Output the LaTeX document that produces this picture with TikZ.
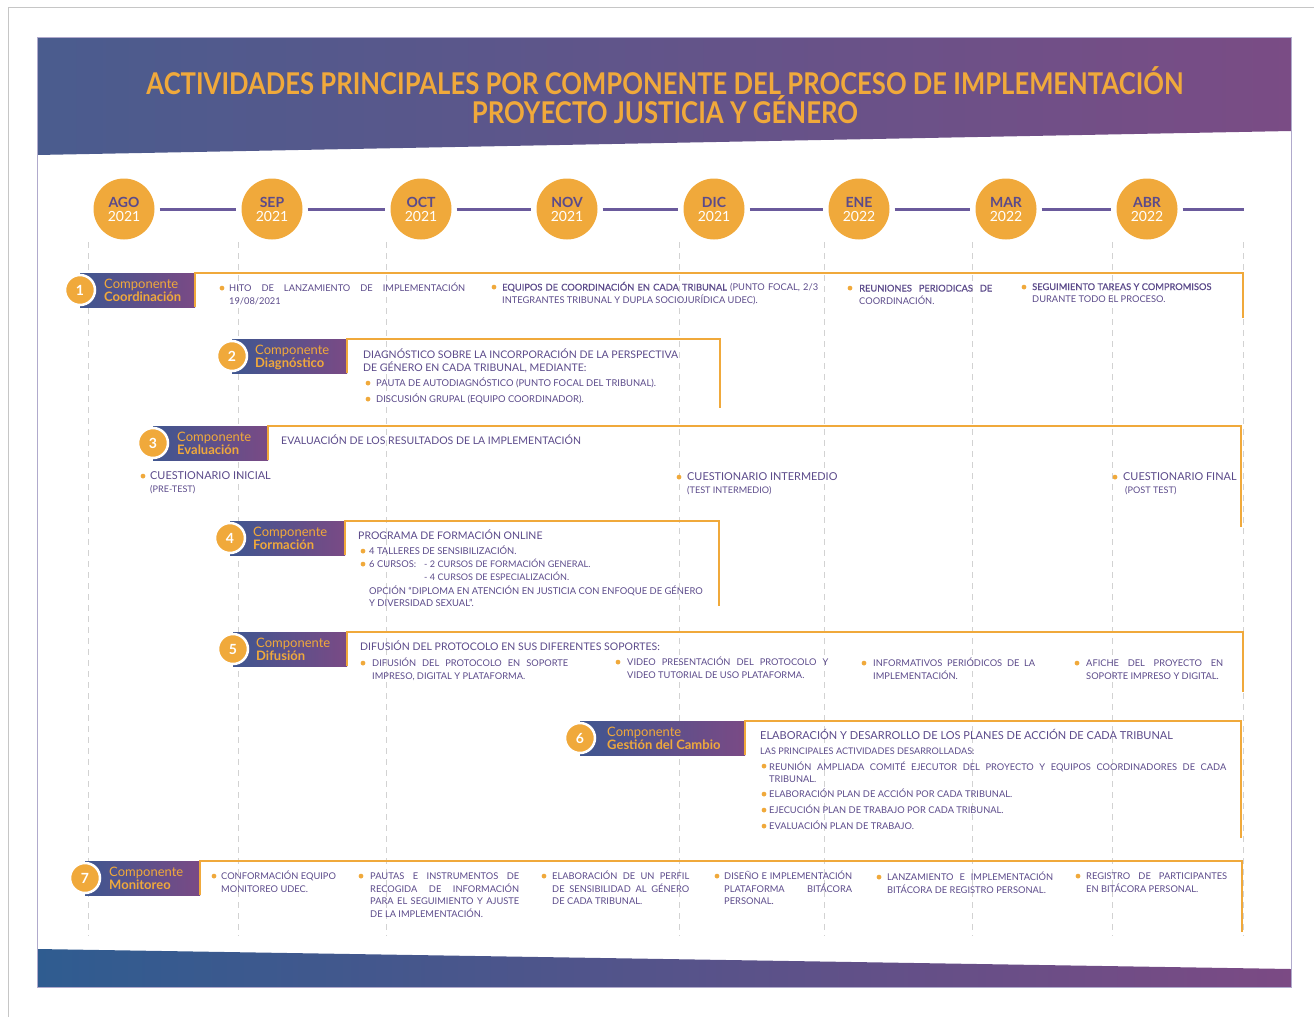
\documentclass[tikz,border=0pt]{standalone}
\usepackage{fontspec}
\usepackage{graphicx}
\setmainfont{Lato}
\newfontfamily\semib[FakeBold=0.6]{Lato}
\definecolor{orng}{HTML}{F0A93B}
\definecolor{tpur}{HTML}{5B4A8A}
\definecolor{lpur}{HTML}{6A5A9C}
\definecolor{hdL}{HTML}{4A5C8E}
\definecolor{hdR}{HTML}{7A4C85}
\definecolor{ftL}{HTML}{2F5C90}
\definecolor{ftR}{HTML}{7B4A84}
\definecolor{bnL}{HTML}{3F5690}
\definecolor{bnR}{HTML}{7A4A85}
\definecolor{dashc}{HTML}{D2D2D2}
\definecolor{bordc}{HTML}{B0AACC}
\newcommand\myfs[2]{\fontsize{#1}{#2}\selectfont}
\newcommand\bul[2]{\fill[orng] (#1,#2-3.4) circle (2.4);}
% multi-line nodes: anchor base west sits on the LAST line, so offsets are added
\newcommand\comp[8]{%
  \shade[left color=bnL, right color=bnR] (#2,#3) rectangle (#4,#3+34);
  \draw[bracket] (#4,#3+34) -- (#4,#3) -- (#7,#3) -- (#7,#8);
  \node[numc] (n#1) at (#2,#3+17) {#1};
  \node[comptxt] (l#1) at (#5,#3+28.5) {Componente\\\textbf{#6}};
}
\begin{document}
\begin{tikzpicture}[x=1pt,y=-1pt,
  txt/.style={anchor=base west, inner sep=0pt, align=left, text=tpur, font=\myfs{9.3}{12.5}},
  txtL/.style={txt, font=\myfs{10.5}{12.5}},
  txtS/.style={txt, font=\myfs{9.4}{11.5}},
  txtXS/.style={txt, font=\myfs{9.1}{13}},
  numc/.style={circle, fill=orng, draw=white, line width=2.5pt, minimum size=30pt, inner sep=0pt, text=white, font=\bfseries\myfs{14}{14}},
  comptxt/.style={anchor=base west, inner sep=0pt, align=left, text=orng, font=\myfs{13}{13}},
  mcirc/.style={circle, fill=orng, minimum size=61pt, inner sep=0pt, align=center, text=white, font=\myfs{14}{14}},
  mline/.style={lpur, line width=3pt, shorten <=5pt, shorten >=5pt},
  bracket/.style={orng, line width=2.4pt},
  vdash/.style={dashc, line width=0.8pt, dash pattern=on 6pt off 5pt}
]
\useasboundingbox (0,0) rectangle (1314,1017);
% outer thin frame lines
\draw[gray!45, line width=0.8pt] (8,7) -- (1314,7);
\draw[gray!45, line width=0.8pt] (8,7) -- (8,1017);
% header and footer
\shade[left color=hdL, right color=hdR] (37,37) -- (1291,37) -- (1291,131) -- (37,155) -- cycle;
\shade[left color=ftL, right color=ftR] (37,949) -- (1291,969) -- (1291,987) -- (37,987) -- cycle;
\draw[bordc, line width=1pt] (37,37) rectangle (1291,987);
% title
\node[anchor=base, inner sep=0pt, text=orng, font=\bfseries\myfs{30}{30}] (title1) at (665,94) {\resizebox{1037pt}{\height}{ACTIVIDADES PRINCIPALES POR COMPONENTE DEL PROCESO DE IMPLEMENTACIÓN}};
\node[anchor=base, inner sep=0pt, text=orng, font=\bfseries\myfs{30}{30}] (title2) at (665,123) {\resizebox{386pt}{\height}{PROYECTO JUSTICIA Y GÉNERO}};
% dashed verticals
\foreach \x in {88,238,386,679,824,972,1112,1243} \draw[vdash] (\x,242) -- (\x,936);
% months
\node[mcirc] (m1) at (124,209) {\textcolor{tpur}{\bfseries AGO}\\2021};
\node[mcirc] (m2) at (272,209) {\textcolor{tpur}{\bfseries SEP}\\2021};
\node[mcirc] (m3) at (421,209) {\textcolor{tpur}{\bfseries OCT}\\2021};
\node[mcirc] (m4) at (567,209) {\textcolor{tpur}{\bfseries NOV}\\2021};
\node[mcirc] (m5) at (714,209) {\textcolor{tpur}{\bfseries DIC}\\2021};
\node[mcirc] (m6) at (859,209) {\textcolor{tpur}{\bfseries ENE}\\2022};
\node[mcirc] (m7) at (1006,209) {\textcolor{tpur}{\bfseries MAR}\\2022};
\node[mcirc] (m8) at (1147,209) {\textcolor{tpur}{\bfseries ABR}\\2022};
\coordinate (mend) at (1244,209);
\draw[mline] (m1.east) -- (m2.west);
\draw[mline] (m2.east) -- (m3.west);
\draw[mline] (m3.east) -- (m4.west);
\draw[mline] (m4.east) -- (m5.west);
\draw[mline] (m5.east) -- (m6.west);
\draw[mline] (m6.east) -- (m7.west);
\draw[mline] (m7.east) -- (m8.west);
\draw[mline, shorten >=0pt] (m8.east) -- (mend);
% components
\comp{1}{80}{273}{195}{104}{Coordinación}{1243}{318}
\comp{2}{232}{339}{347}{255}{Diagnóstico}{720}{408}
\comp{3}{153}{426}{268}{177}{Evaluación}{1241}{527}
\comp{4}{230}{521}{345}{253}{Formación}{719}{606}
\comp{5}{233}{632}{347}{256}{Difusión}{1243}{692}
\comp{6}{580}{721}{745}{607}{Gestión del Cambio}{1241}{838}
\comp{7}{85}{861}{200}{109}{Monitoreo}{1242}{932}
% C1
\bul{222}{291.5}
\node[txt] (t11) at (229,291.5+12.5) {\makebox[236pt][s]{HITO DE LANZAMIENTO DE IMPLEMENTACIÓN}\\19/08/2021};
\bul{494}{290.5}
\node[txt] (t12) at (502,290.5+12.5) {\makebox[316pt][s]{{\semib EQUIPOS DE COORDINACIÓN EN CADA TRIBUNAL} (PUNTO FOCAL, 2/3}\\INTEGRANTES TRIBUNAL Y DUPLA SOCIOJURÍDICA UDEC).};
\bul{850}{291.5}
\node[txt] (t13) at (859,291.5+12.5) {\semib\makebox[133pt][s]{REUNIONES PERIODICAS DE}\\COORDINACIÓN.};
\bul{1024}{290.5}
\node[txt] (t14) at (1032,290.5+12) {\semib SEGUIMIENTO TAREAS Y COMPROMISOS\\DURANTE TODO EL PROCESO.};
% C2
\node[txtL] (t21) at (363,358.5+12.5) {DIAGNÓSTICO SOBRE LA INCORPORACIÓN DE LA PERSPECTIVA\\DE GÉNERO EN CADA TRIBUNAL, MEDIANTE:};
\bul{368}{386.5}
\node[txtS] (t22) at (376,386.5) {PAUTA DE AUTODIAGNÓSTICO (PUNTO FOCAL DEL TRIBUNAL).};
\bul{368}{402.5}
\node[txtS] (t23) at (376,402.5) {DISCUSIÓN GRUPAL (EQUIPO COORDINADOR).};
% C3
\node[txtL] (t31) at (281,444.5) {EVALUACIÓN DE LOS RESULTADOS DE LA IMPLEMENTACIÓN};
\bul{143}{479.5}
\node[txtL, font=\myfs{10.9}{12.5}] (t32) at (150,479.5) {CUESTIONARIO INICIAL};
\node[txtXS] (t33) at (150,492.5) {(PRE-TEST)};
\bul{679}{480.5}
\node[txtL, font=\myfs{10.9}{12.5}] (t34) at (687,480.5) {CUESTIONARIO INTERMEDIO};
\node[txtXS] (t35) at (687,493.5) {(TEST INTERMEDIO)};
\bul{1115}{480.5}
\node[txtL, font=\myfs{10.9}{12.5}] (t36) at (1123,480.5) {CUESTIONARIO FINAL};
\node[txtXS] (t37) at (1125,493.5) {(POST TEST)};
% C4
\node[txtL] (t41) at (358,539.5) {PROGRAMA DE FORMACIÓN ONLINE};
\bul{363}{554.5}
\node[txtS] (t42) at (369,554.5) {4 TALLERES DE SENSIBILIZACIÓN.};
\bul{363}{567.5}
\node[txtS] (t43) at (369,567.5) {6 CURSOS:};
\node[txtXS] (t44) at (424,567.5+13) {- 2 CURSOS DE FORMACIÓN GENERAL.\\- 4 CURSOS DE ESPECIALIZACIÓN.};
\node[txtS] (t45) at (369,594.5+11.5) {OPCIÓN “DIPLOMA EN ATENCIÓN EN JUSTICIA CON ENFOQUE DE GÉNERO\\Y DIVERSIDAD SEXUAL”.};
% C5
\node[txtL] (t51) at (360,650.5) {DIFUSIÓN DEL PROTOCOLO EN SUS DIFERENTES SOPORTES:};
\bul{363}{666.5}
\node[txt] (t52) at (372,666.5+12.5) {\makebox[196pt][s]{DIFUSIÓN DEL PROTOCOLO EN SOPORTE}\\IMPRESO, DIGITAL Y PLATAFORMA.};
\bul{618}{665.5}
\node[txt] (t53) at (627,665.5+12.5) {\makebox[201pt][s]{VIDEO PRESENTACIÓN DEL PROTOCOLO Y}\\VIDEO TUTORIAL DE USO PLATAFORMA.};
\bul{864}{666.5}
\node[txt] (t54) at (873,666.5+12.5) {\makebox[162pt][s]{INFORMATIVOS PERIÓDICOS DE LA}\\IMPLEMENTACIÓN.};
\bul{1077}{666.5}
\node[txt] (t55) at (1086,666.5+12.5) {\makebox[137pt][s]{AFICHE DEL PROYECTO EN}\\SOPORTE IMPRESO Y DIGITAL.};
% C6
\node[txtL, font=\myfs{11}{12.5}] (t61) at (760,739.5) {ELABORACIÓN Y DESARROLLO DE LOS PLANES DE ACCIÓN DE CADA TRIBUNAL};
\node[txtXS] (t62) at (760,754.5) {LAS PRINCIPALES ACTIVIDADES DESARROLLADAS:};
\bul{764}{769.5}
\node[txt] (t63) at (769,769.5+13) {\makebox[457pt][s]{REUNIÓN AMPLIADA COMITÉ EJECUTOR DEL PROYECTO Y EQUIPOS COORDINADORES DE CADA}\\TRIBUNAL.};
\bul{764}{797.5}
\node[txt] (t64) at (769,797.5) {ELABORACIÓN PLAN DE ACCIÓN POR CADA TRIBUNAL.};
\bul{764}{813.5}
\node[txt] (t65) at (769,813.5) {EJECUCIÓN PLAN DE TRABAJO POR CADA TRIBUNAL.};
\bul{764}{829.5}
\node[txt] (t66) at (769,829.5) {EVALUACIÓN PLAN DE TRABAJO.};
% C7
\bul{214}{879.5}
\node[txt] (t71) at (221,879.5+12.5) {CONFORMACIÓN EQUIPO\\MONITOREO UDEC.};
\bul{361}{879.5}
\node[txt] (t72) at (370,879.5+37.5) {\makebox[149pt][s]{PAUTAS E INSTRUMENTOS DE}\\\makebox[149pt][s]{RECOGIDA DE INFORMACIÓN}\\\makebox[149pt][s]{PARA EL SEGUIMIENTO Y AJUSTE}\\DE LA IMPLEMENTACIÓN.};
\bul{544}{879.5}
\node[txt] (t73) at (552,879.5+25) {\makebox[137pt][s]{ELABORACIÓN DE UN PERFIL}\\\makebox[137pt][s]{DE SENSIBILIDAD AL GÉNERO}\\DE CADA TRIBUNAL.};
\bul{717}{879.5}
\node[txt] (t74) at (724,879.5+25) {\makebox[128pt][s]{DISEÑO E IMPLEMENTACIÓN}\\\makebox[128pt][s]{PLATAFORMA BITÁCORA}\\PERSONAL.};
\bul{879}{880.5}
\node[txt] (t75) at (887,880.5+12.5) {\makebox[166pt][s]{LANZAMIENTO E IMPLEMENTACIÓN}\\BITÁCORA DE REGISTRO PERSONAL.};
\bul{1078}{879.5}
\node[txt] (t76) at (1086,879.5+12.5) {\makebox[141pt][s]{REGISTRO DE PARTICIPANTES}\\EN BITÁCORA PERSONAL.};
\end{tikzpicture}
\end{document}
